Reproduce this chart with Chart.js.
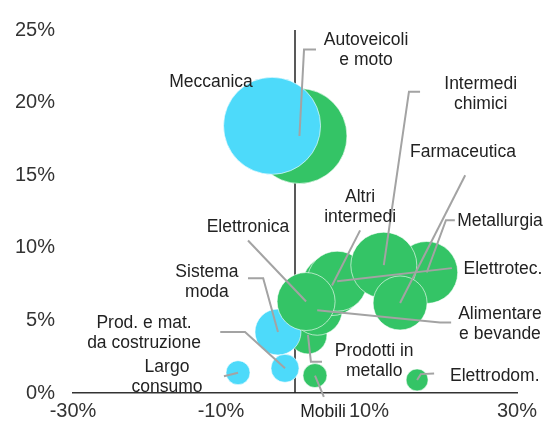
<!DOCTYPE html>
<html lang="it">
<head>
<meta charset="UTF-8">
<title>Settori: crescita e livelli</title>
<script src="https://cdn.jsdelivr.net/npm/chart.js"></script>
<style>
  html,body{margin:0;padding:0;background:#fff;}
  #wrap{width:548px;height:428px;}
</style>
</head>
<body>
<div id="wrap"><canvas id="chart"></canvas></div>
<script>
// settori, in ordine di disegno (dal fondo verso il primo piano)
const settori = ['Autoveicoli\ne moto', 'Meccanica', 'Prodotti in\nmetallo', 'Sistema\nmoda',
  'Alimentare\ne bevande', 'Altri\nintermedi', 'Elettrotec.', 'Elettronica', 'Metallurgia',
  'Intermedi\nchimici', 'Farmaceutica', 'Prod. e mat.\nda costruzione', 'Largo\nconsumo',
  'Mobili', 'Elettrodom.'];
const varX = [0.6, -3.1, 1.75, -2.3, 3.0, 5.0, 5.7, 1.5, 17.8, 12.0, 14.2, -1.35, -7.7, 2.7, 16.5];
const varY = [17.7, 18.4, 4.0, 4.2, 5.7, 7.4, 7.7, 6.3, 8.3, 8.8, 6.2, 1.7, 1.4, 1.2, 0.9];
const peso = [47.5, 48.5, 19, 23, 25, 30, 30, 29, 31, 33, 27, 14, 12, 12, 11];
const gruppo = ['v', 'c', 'v', 'c', 'v', 'v', 'v', 'v', 'v', 'v', 'v', 'c', 'c', 'v', 'v'];
const xTicks = [-30, -10, 10, 30];
const yTicks = [0, 5, 10, 15, 20, 25];

// posizione etichette e tracciato delle linee guida (unità dei dati)
const posEtichetta = [[9.6, 24.3], [-11.35, 21.4], [10.7, 2.85], [-11.9, 8.35],
  [27.7, 5.4], [8.8, 13.5], [28.1, 8.55], [-6.35, 11.4], [27.7, 11.8],
  [25.1, 21.3], [22.7, 16.6], [-20.4, 4.8], [-17.3, 1.8], [3.8, -1.3], [27.0, 1.15]];
const guida = [
  [[2.84, 23.65], [1.22, 23.65]],
  [],
  [[3.65, 2.15], [2.15, 2.15]],
  [[-6.35, 7.9], [-4.3, 7.9]],
  [[21.1, 4.85], [19.6, 4.85]],
  [[8.8, 11.2]],
  [[21.2, 8.6]],
  [[-6.35, 10.5]],
  [[21.6, 11.9], [20.4, 11.9]],
  [[16.9, 20.75], [15.4, 20.75]],
  [[23.0, 15.0]],
  [[-10.1, 4.2], [-6.75, 4.2]],
  [[-9.6, 1.15]],
  [[3.9, -0.27]],
  [[18.8, 1.35], [17.0, 1.3]]
];

const colori = {c: 'rgb(77,218,250)', v: 'rgb(52,196,102)'};

const bolle = settori.map((s, i) => ({x: varX[i], y: varY[i], r: peso[i]}));

const datasets = [];
// linee guida sopra le bolle
guida.forEach((g, i) => {
  if (!g.length) return;
  const pts = g.map(p => ({x: p[0], y: p[1]}));
  pts.push({x: varX[i], y: varY[i]});
  datasets.push({
    type: 'line', data: pts, borderColor: '#a3a3a3', borderWidth: 2,
    pointRadius: 0, tension: 0, fill: false, clip: false, order: 0
  });
});
datasets.push({
  type: 'bubble', data: bolle,
  backgroundColor: gruppo.map(g => colori[g]),
  borderColor: 'rgba(255,255,255,0.6)', borderWidth: 1, order: 1
});
// asse verticale a x = 0
datasets.push({
  type: 'line', data: [{x: 0, y: 0}, {x: 0, y: 25}], borderColor: '#222', borderWidth: 1.5,
  pointRadius: 0, fill: false, clip: false, order: 2
});

const etichette = {
  id: 'etichette',
  afterDatasetsDraw(chart) {
    const {ctx, scales: {x, y}} = chart;
    ctx.save();
    ctx.font = '17.5px "Liberation Sans", Arial, sans-serif';
    ctx.fillStyle = '#222';
    ctx.textAlign = 'center';
    ctx.textBaseline = 'middle';
    settori.forEach((s, i) => {
      const px = x.getPixelForValue(posEtichetta[i][0]);
      const py = y.getPixelForValue(posEtichetta[i][1]);
      s.split('\n').forEach((riga, k) => ctx.fillText(riga, px, py + k * 20));
    });
    ctx.restore();
  }
};

new Chart(document.getElementById('chart'), {
  type: 'bubble',
  data: {datasets},
  options: {
    responsive: true, maintainAspectRatio: false, animation: false, events: [],
    layout: {autoPadding: false, padding: {top: 22, right: 31, bottom: 0, left: 0}},
    plugins: {legend: {display: false}, tooltip: {enabled: false}},
    scales: {
      x: {
        type: 'linear', min: -30, max: 30,
        grid: {display: false, drawTicks: false},
        border: {display: true, color: '#333', width: 1.5},
        afterBuildTicks: s => { s.ticks = xTicks.map(v => ({value: v})); },
        afterFit: s => { s.height = 35; },
        ticks: {padding: 6, color: '#333', font: {size: 20, family: '"Liberation Sans", Arial'},
          maxRotation: 0, autoSkip: false, callback: v => v + '%'}
      },
      y: {
        type: 'linear', min: 0, max: 25,
        grid: {display: false, drawTicks: false},
        border: {display: false},
        afterBuildTicks: s => { s.ticks = yTicks.map(v => ({value: v})); },
        afterFit: s => { s.width = 73; },
        ticks: {padding: 18, color: '#333', font: {size: 20, family: '"Liberation Sans", Arial'},
          callback: v => v + '%'}
      }
    }
  },
  plugins: [etichette]
});
</script>
</body>
</html>
